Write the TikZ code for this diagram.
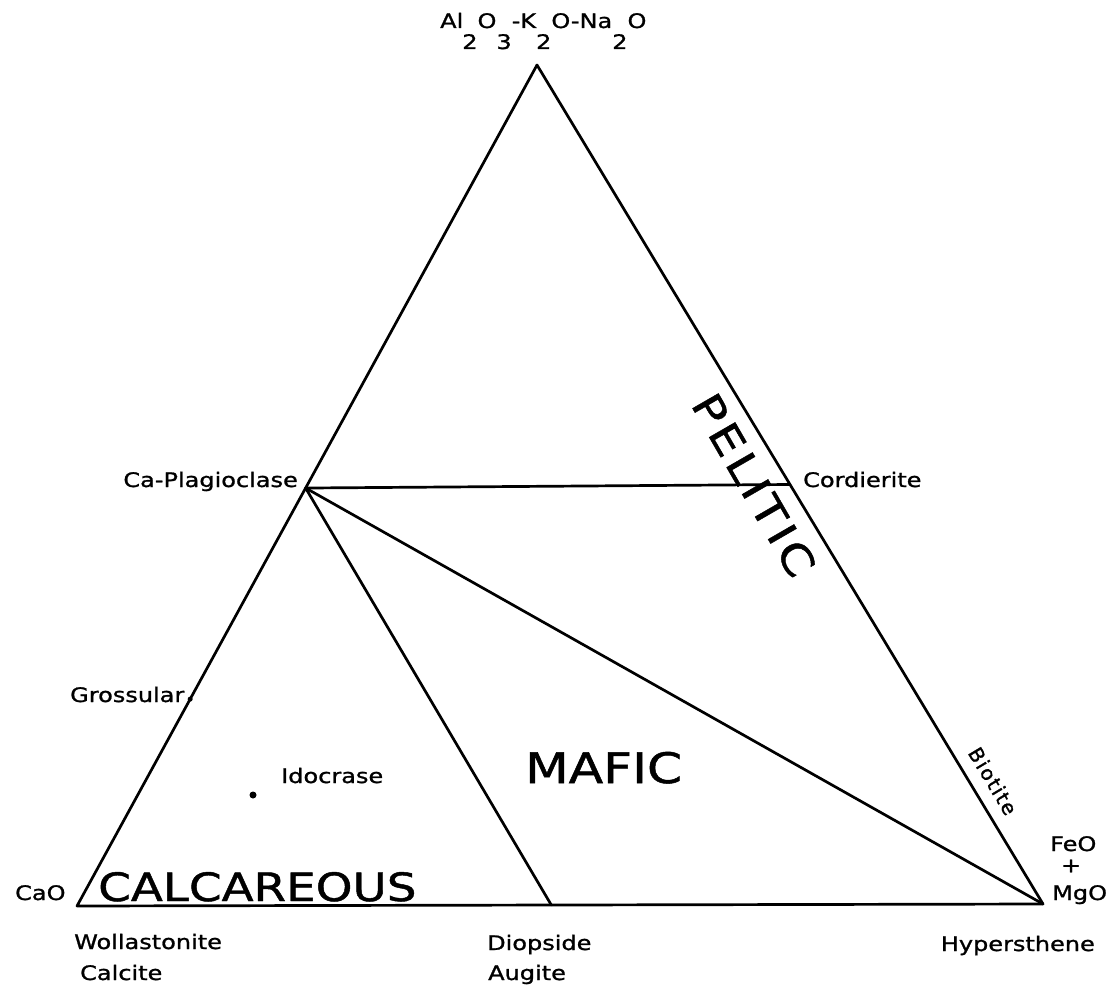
\documentclass[tikz,border=0pt]{standalone}
\usepackage{fontspec}
\setmainfont{DejaVu Sans}[FakeStretch=1.2,FakeBold=1.2]
\newfontfamily\rotfont{DejaVu Sans}[FakeBold=1.2,LetterSpace=8]
\usetikzlibrary{calc}
\newcommand{\lowsub}[1]{\raisebox{-21pt}{#1}}
\begin{document}
\begin{tikzpicture}[x=1pt,y=-1pt,
  edge/.style={line width=2.7pt, line join=round, line cap=round},
  lbl/.style={inner sep=0pt, font=\fontsize{20}{24}\selectfont},
  big/.style={inner sep=0pt, font=\fontsize{41}{48}\selectfont},
  tick/.style={fill=black, circle, inner sep=0pt, minimum size=5pt},
]
\useasboundingbox (0,0) rectangle (1108,987);
% vertices
\coordinate (A) at (537,65);
\coordinate (C) at (77,906);
\coordinate (F) at (1043,904);
\coordinate (P) at ($(A)!0.503!(C)$);
\coordinate (Cd) at ($(A)!0.5!(F)$);
\coordinate (G) at ($(A)!0.754!(C)$);
\coordinate (D) at ($(C)!0.491!(F)$);
% triangle and tie lines
\draw[edge] (A) -- (C) -- (F) -- cycle;
\draw[edge] (P) -- (Cd);
\draw[edge] (P) -- (D);
\draw[edge] (P) -- (F);
\node[tick, minimum size=5pt] (gdot) at (G) {};
\node[tick, minimum size=7pt] (idot) at (253,795) {};
% labels
\node[lbl, anchor=base west] (top) at (440,28)
  {Al\kern-1pt\lowsub{2}O\lowsub{3}-K\lowsub{2}O-Na\lowsub{2}O};
\node[lbl, anchor=base east] (plag) at (298,487) {Ca-Plagioclase};
\node[lbl, anchor=base west] (cord) at (803,487) {Cordierite};
\node[lbl, anchor=base west] (gros) at (70,702) {Grossular};
\node[lbl, anchor=base west] (idoc) at (281,783) {Idocrase};
\node[lbl, anchor=base west] (cao) at (15,900) {CaO};
\node[lbl, anchor=base west] (woll) at (74,949) {Wollastonite};
\node[lbl, anchor=base west] (calc) at (80,980) {Calcite};
\node[lbl, anchor=base west] (diop) at (487,950) {Diopside};
\node[lbl, anchor=base west] (augi) at (488,980) {Augite};
\node[lbl, anchor=base east] (hyp) at (1095,951) {Hypersthene};
\node[lbl, anchor=base west] (feo) at (1050,851) {FeO};
\node[lbl] (plus) at (1071,866) {+};
\node[lbl, anchor=base west] (mgo) at (1052,900) {MgO};
\node[inner sep=0pt, font=\rotfont\fontsize{20}{24}\selectfont, rotate=-59] (bio) at (993,781) {Biotite};
% field names
\node[big, font=\fontsize{42}{48}\selectfont, anchor=base west] (maf) at (525,783) {MAFIC};
\node[big, font=\fontsize{39}{46}\selectfont, anchor=base west] (calcar) at (98,901) {CALCAREOUS};
\node[big, rotate=-60] (pel) at (754,485) {\addfontfeature{LetterSpace=9}PELITIC};
\end{tikzpicture}
\end{document}
